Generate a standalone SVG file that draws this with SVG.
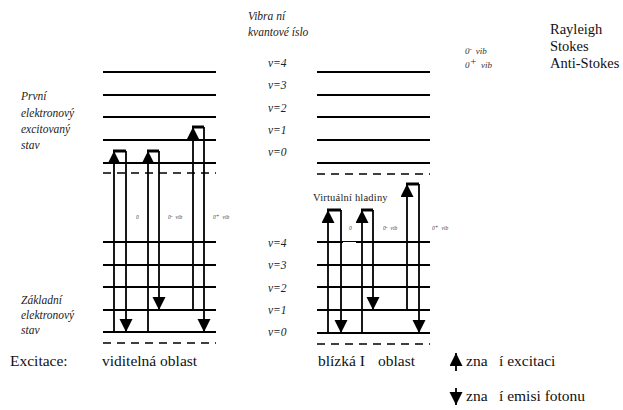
<svg xmlns="http://www.w3.org/2000/svg" width="623" height="410" viewBox="0 0 623 410">
  <style>
    .lvl { stroke: #000; stroke-width: 2; fill: none; }
    .dash { stroke: #000; stroke-width: 1.6; stroke-dasharray: 8 6; fill: none; }
    .tr { stroke: #000; stroke-width: 1.8; fill: none; marker-end: url(#head); }
    .bar { stroke: #000; stroke-width: 3; fill: none; }
    .it { font-family: "Liberation Serif", "DejaVu Serif", serif; font-style: italic; font-size: 11.5px; fill: #222; }
    .rm { font-family: "Liberation Serif", "DejaVu Serif", serif; font-size: 15.5px; fill: #111; }
    .rt { font-family: "Liberation Serif", "DejaVu Serif", serif; font-size: 14.5px; fill: #111; }
    .tiny { font-family: "Liberation Serif", "DejaVu Serif", serif; font-style: italic; font-size: 5.5px; fill: #444; }
    .sm { font-family: "Liberation Serif", "DejaVu Serif", serif; font-style: italic; font-size: 9px; fill: #333; }
    .virt { font-family: "Liberation Serif", "DejaVu Serif", serif; font-size: 10.5px; fill: #222; }
  </style>
  <defs>
    <marker id="head" markerUnits="userSpaceOnUse" markerWidth="14" markerHeight="14" refX="13" refY="6.5" orient="auto">
      <path d="M0,0 L13,6.5 L0,13 z" fill="#000"/>
    </marker>
  </defs>

  <rect width="623" height="410" fill="#fff"/>

  <!-- header labels -->
  <g id="header">
    <text class="it" x="248" y="20">Vibra ní</text>
    <text class="it" x="248" y="36">kvantové  íslo</text>
    <text class="rt" x="550" y="34">Rayleigh</text>
    <text class="rt" x="550" y="51">Stokes</text>
    <text class="rt" x="550" y="68">Anti-Stokes</text>
    <text class="sm" x="465" y="54">0<tspan dy="-3" font-size="7">-</tspan><tspan dy="3" dx="4">vib</tspan></text>
    <text class="sm" x="465" y="68">0<tspan dy="-3" font-size="11">+</tspan><tspan dy="3" dx="4">vib</tspan></text>
  </g>

  <!-- quantum number labels -->
  <g id="vlabels">
    <text class="it" x="268" y="67">v=4</text>
    <text class="it" x="268" y="89">v=3</text>
    <text class="it" x="268" y="112">v=2</text>
    <text class="it" x="268" y="134">v=1</text>
    <text class="it" x="268" y="156">v=0</text>
    <text class="it" x="268" y="247">v=4</text>
    <text class="it" x="268" y="269">v=3</text>
    <text class="it" x="268" y="292">v=2</text>
    <text class="it" x="268" y="314">v=1</text>
    <text class="it" x="268" y="336">v=0</text>
  </g>

  <!-- state names -->
  <g id="states">
    <text class="it" x="21" y="100">První</text>
    <text class="it" x="21" y="117">elektronový</text>
    <text class="it" x="21" y="133">excitovaný</text>
    <text class="it" x="21" y="149">stav</text>
    <text class="it" x="21" y="304">Základní</text>
    <text class="it" x="21" y="319">elektronový</text>
    <text class="it" x="21" y="334">stav</text>
  </g>

  <!-- left energy levels -->
  <g id="levels-left">
    <line class="lvl" x1="103" y1="72" x2="216" y2="72"/>
    <line class="lvl" x1="103" y1="95" x2="216" y2="95"/>
    <line class="lvl" x1="103" y1="117" x2="216" y2="117"/>
    <line class="lvl" x1="103" y1="140" x2="216" y2="140"/>
    <line class="lvl" x1="103" y1="163" x2="216" y2="163"/>
    <line class="dash" x1="103" y1="173" x2="216" y2="173"/>
    <line class="lvl" x1="103" y1="242" x2="216" y2="242"/>
    <line class="lvl" x1="103" y1="265" x2="216" y2="265"/>
    <line class="lvl" x1="103" y1="287" x2="216" y2="287"/>
    <line class="lvl" x1="103" y1="310" x2="216" y2="310"/>
    <line class="lvl" x1="103" y1="332" x2="216" y2="332"/>
    <line class="dash" x1="103" y1="343" x2="216" y2="343"/>
  </g>

  <!-- right energy levels -->
  <g id="levels-right">
    <line class="lvl" x1="317" y1="72" x2="430" y2="72"/>
    <line class="lvl" x1="317" y1="95" x2="430" y2="95"/>
    <line class="lvl" x1="317" y1="117" x2="430" y2="117"/>
    <line class="lvl" x1="317" y1="140" x2="430" y2="140"/>
    <line class="lvl" x1="317" y1="163" x2="430" y2="163"/>
    <line class="dash" x1="317" y1="174" x2="430" y2="174"/>
    <line class="lvl" x1="317" y1="242" x2="343" y2="242"/>
    <line stroke="#000" stroke-width="1" x1="343" y1="241.5" x2="356" y2="241.5"/>
    <line class="lvl" x1="356" y1="242" x2="430" y2="242"/>
    <line class="lvl" x1="317" y1="265" x2="430" y2="265"/>
    <line class="lvl" x1="317" y1="287" x2="430" y2="287"/>
    <line class="lvl" x1="317" y1="310" x2="430" y2="310"/>
    <line class="lvl" x1="317" y1="333" x2="430" y2="333"/>
    <line class="dash" x1="317" y1="344" x2="430" y2="344"/>
  </g>

  <text class="virt" x="313" y="201" letter-spacing="0.2">Virtuální hladiny</text>

  <!-- transition labels -->
  <g id="tlabels">
    <text class="tiny" x="136" y="219">0</text>
    <text class="tiny" x="168" y="219">0<tspan dy="-1.5">-</tspan><tspan dy="1.5" dx="3">vib</tspan></text>
    <text class="tiny" x="213" y="219">0<tspan dy="-1.5">+</tspan><tspan dy="1.5" dx="3">vib</tspan></text>
    <text class="tiny" x="349" y="230">0</text>
    <text class="tiny" x="383" y="230">0<tspan dy="-1.5">-</tspan><tspan dy="1.5" dx="3">vib</tspan></text>
    <text class="tiny" x="432" y="230">0<tspan dy="-1.5">+</tspan><tspan dy="1.5" dx="3">vib</tspan></text>
  </g>

  <!-- transitions -->
  <g id="connectors">
    <!-- visible excitation -->
    <path class="tr" d="M114,332 V151"/>
    <path class="bar" d="M113,151 H126"/>
    <path class="tr" d="M126,151 V332"/>
    <path class="tr" d="M148,332 V151"/>
    <path class="bar" d="M147,151 H159"/>
    <path class="tr" d="M159,151 V310"/>
    <path class="tr" d="M193,310 V127"/>
    <path class="bar" d="M192,127 H204"/>
    <path class="tr" d="M204,127 V332"/>
    <!-- near-IR excitation -->
    <path class="tr" d="M328,333 V210"/>
    <path class="bar" d="M327,210 H341"/>
    <path class="tr" d="M341,210 V333"/>
    <path class="tr" d="M362,333 V210"/>
    <path class="bar" d="M361,210 H373"/>
    <path class="tr" d="M373,210 V310"/>
    <path class="tr" d="M407,310 V184"/>
    <path class="bar" d="M406,184 H419"/>
    <path class="tr" d="M419,184 V333"/>
    <!-- legend arrows -->
    <path class="tr" d="M456,371 V353"/>
    <path class="tr" d="M456,388 V405"/>
  </g>

  <!-- footer -->
  <g id="footer">
    <text class="rm" x="10" y="366">Excitace:</text>
    <text class="rm" x="102" y="366">viditelná oblast</text>
    <text class="rm" x="318" y="366">blízká I<tspan x="378">oblast</tspan></text>
    <text class="rm" x="466" y="366">zna<tspan x="499">í excitaci</tspan></text>
    <text class="rm" x="466" y="401">zna<tspan x="499">í emisi fotonu</tspan></text>
  </g>
</svg>
